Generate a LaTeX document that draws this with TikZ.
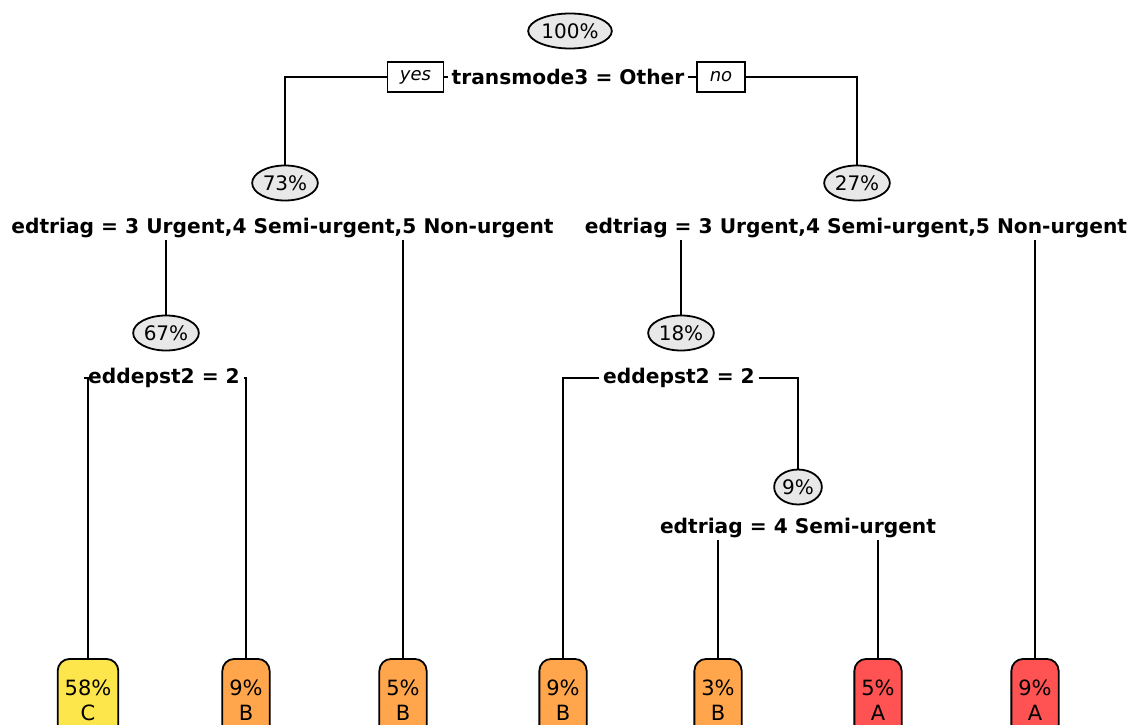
\documentclass[tikz,border=0pt]{standalone}
\usepackage{fontspec}
\setmainfont{DejaVu Sans}
\usetikzlibrary{shapes.geometric}
\definecolor{ovalgray}{RGB}{232,232,232}
\definecolor{leafC}{RGB}{253,229,76}
\definecolor{leafB}{RGB}{255,166,77}
\definecolor{leafA}{RGB}{255,82,82}
\begin{document}
\begin{tikzpicture}[x=1pt,y=-1pt, line width=1.8pt,
 pct/.style={ellipse, draw, fill=ovalgray, inner xsep=1pt, inner ysep=0pt, minimum height=35pt, font=\fontsize{20}{24}\selectfont},
 split/.style={inner xsep=3pt, inner ysep=1pt, font=\fontsize{20.2}{24}\selectfont\bfseries},
 leaf/.style={draw, rounded corners=12pt, anchor=north, align=center, minimum height=82pt, inner xsep=7pt, font=\fontsize{21}{25}\selectfont},
 lab/.style={draw, fill=white, minimum height=30pt, inner sep=0pt, font=\fontsize{18}{20}\selectfont\itshape},
]
\useasboundingbox (0,0) rectangle (1137,725);
\fill[white] (0,0) rectangle (1137,725);
% inner nodes
\node[pct] (n100) at (570,31) {100\%};
\node[split] (s1) at (568,77) {transmode3 = Other};
\node[lab, minimum width=56pt] (yes) at (415.5,77) {yes};
\node[lab, minimum width=48pt] (no) at (721,77) {no};
\node[pct] (n73) at (285,183) {73\%};
\node[split] (s2) at (282.5,228) {edtriag = 3 Urgent,4 Semi-urgent,5 Non-urgent};
\node[pct] (n27) at (857,183) {27\%};
\node[split] (s3) at (856,228) {edtriag = 3 Urgent,4 Semi-urgent,5 Non-urgent};
\node[pct] (n67) at (166,333) {67\%};
\node[split] (s4) at (164,378) {eddepst2 = 2};
\node[pct] (n18) at (681,333) {18\%};
\node[split] (s5) at (679,378) {eddepst2 = 2};
\node[pct] (n9) at (798,487) {9\%};
\node[split] (s6) at (798,528) {edtriag = 4 Semi-urgent};
% leaves
\node[leaf, fill=leafC] (l1) at (88,658) {58\%\\C};
\node[leaf, fill=leafB] (l2) at (246,658) {9\%\\B};
\node[leaf, fill=leafB] (l3) at (403,658) {5\%\\B};
\node[leaf, fill=leafB] (l4) at (563,658) {9\%\\B};
\node[leaf, fill=leafB] (l5) at (718,658) {3\%\\B};
\node[leaf, fill=leafA] (l6) at (878,658) {5\%\\A};
\node[leaf, fill=leafA] (l7) at (1035,658) {9\%\\A};
% connectors
\draw (yes.west) -| (n73.north);
\draw (yes.east) -- (s1.west);
\draw (s1.east) -- (no.west);
\draw (no.east) -| (n27.north);
\draw (n67 |- s2.south) -- (n67.north);
\draw (l3 |- s2.south) -- (l3.north);
\draw (n18 |- s3.south) -- (n18.north);
\draw (l7 |- s3.south) -- (l7.north);
\draw (s4.west) -| (l1.north);
\draw (s4.east) -| (l2.north);
\draw (s5.west) -| (l4.north);
\draw (s5.east) -| (n9.north);
\draw (l5 |- s6.south) -- (l5.north);
\draw (l6 |- s6.south) -- (l6.north);
\end{tikzpicture}
\end{document}
